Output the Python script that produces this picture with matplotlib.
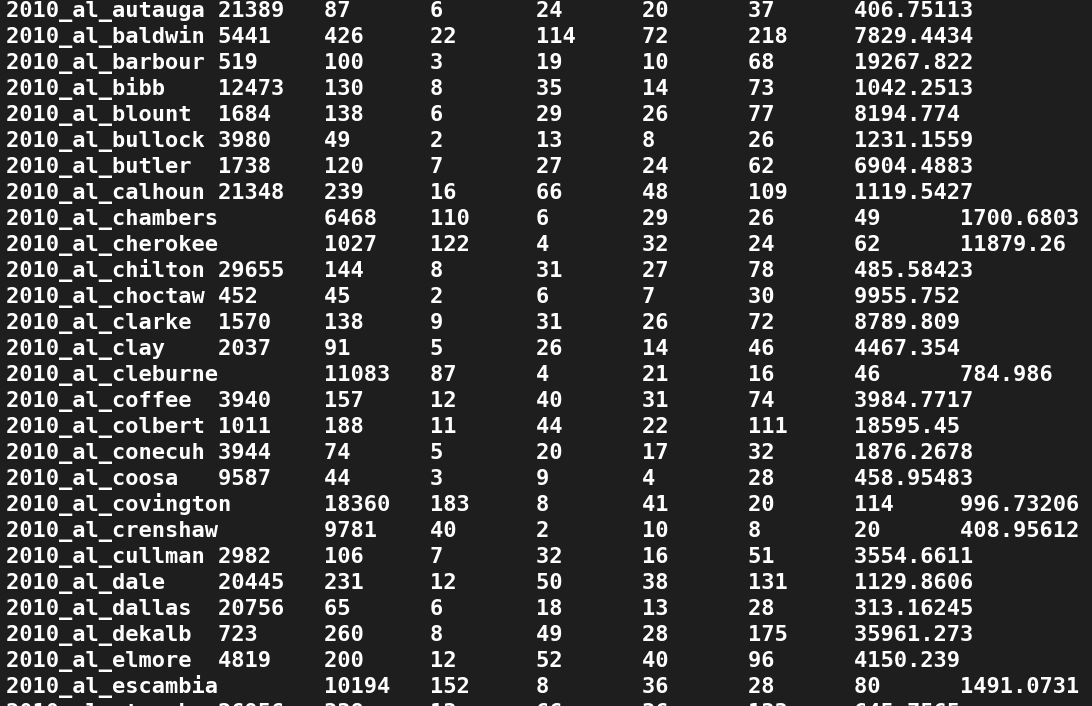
import matplotlib
matplotlib.use("Agg")
import matplotlib.pyplot as plt

# terminal dump of a tab separated file
names = ["2010_al_autauga", "2010_al_baldwin", "2010_al_barbour", "2010_al_bibb",
         "2010_al_blount", "2010_al_bullock", "2010_al_butler", "2010_al_calhoun",
         "2010_al_chambers", "2010_al_cherokee", "2010_al_chilton", "2010_al_choctaw",
         "2010_al_clarke", "2010_al_clay", "2010_al_cleburne", "2010_al_coffee",
         "2010_al_colbert", "2010_al_conecuh", "2010_al_coosa", "2010_al_covington",
         "2010_al_crenshaw", "2010_al_cullman", "2010_al_dale", "2010_al_dallas",
         "2010_al_dekalb", "2010_al_elmore", "2010_al_escambia", "2010_al_etowah"]
col1 = [21389, 5441, 519, 12473, 1684, 3980, 1738, 21348, 6468, 1027, 29655, 452,
        1570, 2037, 11083, 3940, 1011, 3944, 9587, 18360, 9781, 2982, 20445, 20756,
        723, 4819, 10194, 26956]
col2 = [87, 426, 100, 130, 138, 49, 120, 239, 110, 122, 144, 45, 138, 91, 87, 157,
        188, 74, 44, 183, 40, 106, 231, 65, 260, 200, 152, 338]
col3 = [6, 22, 3, 8, 6, 2, 7, 16, 6, 4, 8, 2, 9, 5, 4, 12, 11, 5, 3, 8, 2, 7, 12, 6,
        8, 12, 8, 13]
col4 = [24, 114, 19, 35, 29, 13, 27, 66, 29, 32, 31, 6, 31, 26, 21, 40, 44, 20, 9,
        41, 10, 32, 50, 18, 49, 52, 36, 66]
col5 = [20, 72, 10, 14, 26, 8, 24, 48, 26, 24, 27, 7, 26, 14, 16, 31, 22, 17, 4, 20,
        8, 16, 38, 13, 28, 40, 28, 36]
col6 = [37, 218, 68, 73, 77, 26, 62, 109, 49, 62, 78, 30, 72, 46, 46, 74, 111, 32,
        28, 114, 20, 51, 131, 28, 175, 96, 80, 133]
col7 = ["406.75113", "7829.4434", "19267.822", "1042.2513", "8194.774", "1231.1559",
        "6904.4883", "1119.5427", "1700.6803", "11879.26", "485.58423", "9955.752",
        "8789.809", "4467.354", "784.986", "3984.7717", "18595.45", "1876.2678",
        "458.95483", "996.73206", "408.95612", "3554.6611", "1129.8606", "313.16245",
        "35961.273", "4150.239", "1491.0731", "645.7565"]

fig = plt.figure(figsize=(10.92, 7.06), dpi=100)
fig.patch.set_facecolor("#1e1e1e")
ax = fig.add_axes([0, 0, 1, 1])
ax.set_facecolor("#1e1e1e")
ax.set_xlim(0, 1092)
ax.set_ylim(706, 0)
ax.axis("off")

for i in range(len(names)):
    row = [names[i], col1[i], col2[i], col3[i], col4[i], col5[i], col6[i], col7[i]]
    line = "\t".join(str(v) for v in row).expandtabs(8)
    ax.text(6, 11 + 26 * i, line, color="white", fontsize=15.8,
            family="DejaVu Sans Mono", fontweight="bold", va="center", ha="left")

fig.savefig("out.png", dpi=100, facecolor=fig.get_facecolor())
